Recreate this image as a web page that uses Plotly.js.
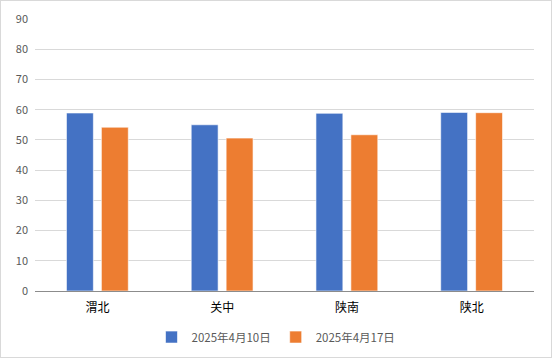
<!DOCTYPE html>
<html><head><meta charset="utf-8">
<script src="https://cdn.plot.ly/plotly-3.0.1.min.js"></script>
<style>
html,body{margin:0;padding:0;background:#fff;}
#chart{width:550px;height:356px;border:1px solid #d9d9d9;}
</style></head>
<body><div id="chart"></div>
<script>
const categories = ['渭北', '关中', '陕南', '陕北'];
const seriesNames = ['2025年4月10日', '2025年4月17日'];
const values0410 = [58.9, 55.0, 58.8, 59.1];
const values0417 = [54.2, 50.6, 51.7, 59.0];
const colors = ['#4472c4', '#ed7d31'];
const fontFam = '"Noto Sans CJK SC", "Open Sans", sans-serif';
const traces = [values0410, values0417].map((v, i) => ({
  type: 'bar', x: categories, y: v, name: seriesNames[i],
  marker: {color: colors[i], line: {color: 'rgba(255,255,255,0.6)', width: 1}},
  hoverinfo: 'none'
}));
const layout = {
  width: 550, height: 356,
  margin: {l: 34, r: 17, t: 18, b: 66, autoexpand: false},
  paper_bgcolor: '#fff', plot_bgcolor: '#fff',
  barmode: 'group', bargap: 0.44, bargroupgap: 0.23,
  font: {family: fontFam, color: '#595959', size: 11},
  xaxis: {showgrid: false, showline: true, linecolor: '#8c8c8c', linewidth: 1,
          ticks: '', tickfont: {size: 12, color: '#000'}, ticklabelstandoff: 6, fixedrange: true},
  yaxis: {range: [0, 90], dtick: 10, showgrid: true, gridcolor: '#d9d9d9', gridwidth: 1,
          zeroline: false, showline: false, ticks: '', tickfont: {size: 11, color: '#595959'},
          ticklabelstandoff: 6, fixedrange: true},
  showlegend: true,
  legend: {orientation: 'h', x: 0.5, xanchor: 'center', xref: 'container',
           y: 0.056, yanchor: 'middle', yref: 'container',
           font: {size: 11.5, color: '#595959'}, itemwidth: 30, tracegroupgap: 0}
};
Plotly.newPlot('chart', traces, layout, {displayModeBar: false, staticPlot: true});
</script></body></html>
